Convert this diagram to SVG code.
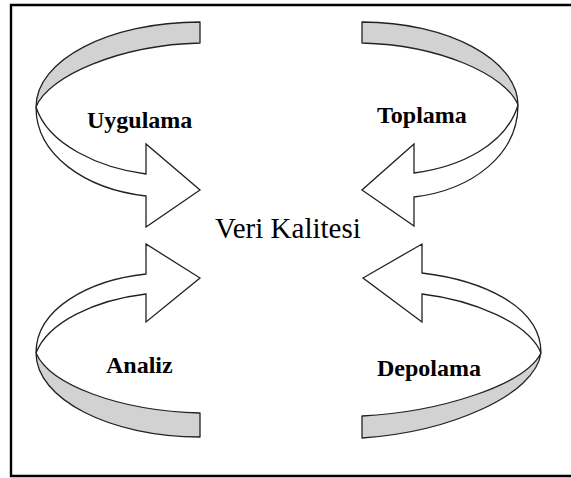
<svg xmlns="http://www.w3.org/2000/svg" width="571" height="478" viewBox="0 0 571 478">
  <style>
    .frame { fill: none; stroke: #000; stroke-width: 2.4; }
    .back { fill: #d2d2d2; stroke: #222; stroke-width: 1.3; stroke-linejoin: round; }
    .front { fill: #fff; stroke: #222; stroke-width: 1.3; stroke-linejoin: miter; }
    .label { font-family: "Liberation Serif", "Times New Roman", serif; font-weight: bold; font-size: 24px; fill: #000; }
    .center { font-family: "Liberation Serif", "Times New Roman", serif; font-size: 29px; fill: #000; }
  </style>
  <rect width="571" height="478" fill="#fff"/>
  <!-- open frame: top, left and bottom edges -->
  <path class="frame" d="M571,5 H11 V476 H571"/>

  <g id="connectors">
    <!-- Uygulama: curls round from the top and points right -->
    <g id="arrow-uygulama">
      <path class="back" d="M200,22 C109,22 36,60 36,107 C48,76 120,45 200,43 Z"/>
      <path class="front" d="M36,107 C48,145 100,168 146,174 L146,144 L200,190 L146,227 L146,196 C85,189 36,155 36,107 Z"/>
    </g>
    <!-- Toplama: curls round from the top and points left -->
    <g id="arrow-toplama">
      <path class="back" d="M362,22 C448,22 518,60 518,105 C506,75 440,45 362,43 Z"/>
      <path class="front" d="M518,105 C506,145 460,167 414,173 L414,144 L362,190 L414,226 L414,197 C472,190 518,155 518,105 Z"/>
    </g>
    <!-- Analiz: curls up from the bottom and points right -->
    <g id="arrow-analiz">
      <path class="back" d="M36,353 C36,399 110,437 200,437 L200,413 C120,411 50,385 36,353 Z"/>
      <path class="front" d="M36,353 C36,308 90,280 146,274 L146,244 L200,278 L146,322 L146,294 C95,300 48,322 36,353 Z"/>
    </g>
    <!-- Depolama: curls up from the bottom and points left -->
    <g id="arrow-depolama">
      <path class="back" d="M541,353 C535,395 450,432 362,438 L362,416 C440,412 525,385 541,353 Z"/>
      <path class="front" d="M541,353 C541,305 480,280 422,273 L422,244 L363,278 L422,322 L422,294 C472,300 528,322 541,353 Z"/>
    </g>
  </g>

  <g id="node-uygulama"><text class="label" x="87" y="128">Uygulama</text></g>
  <g id="node-toplama"><text class="label" x="377" y="123">Toplama</text></g>
  <g id="node-analiz"><text class="label" x="106" y="373">Analiz</text></g>
  <g id="node-depolama"><text class="label" x="377" y="376">Depolama</text></g>
  <g id="node-veri-kalitesi"><text class="center" x="215" y="238">Veri Kalitesi</text></g>
</svg>
